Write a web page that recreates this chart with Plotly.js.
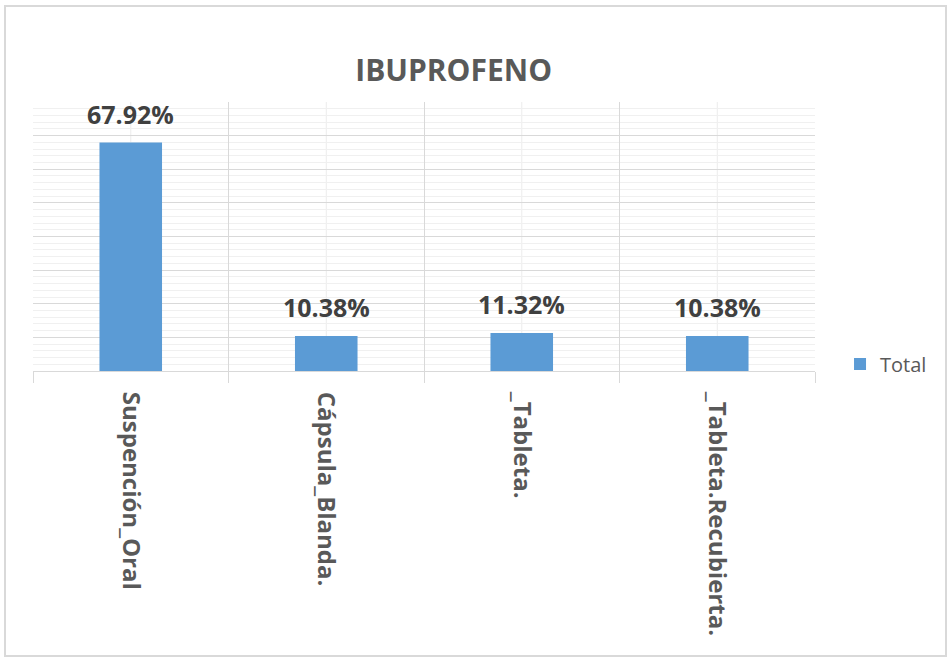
<!DOCTYPE html>
<html>
<head>
<meta charset="utf-8">
<script src="https://cdn.plot.ly/plotly-3.0.1.min.js"></script>
<style>
html,body{margin:0;padding:0;background:#fff;}
#frame{position:absolute;left:4px;top:5px;width:939px;height:648px;border:2px solid #d9d9d9;}
#chart{position:absolute;left:0;top:0;width:949px;height:657px;}
</style>
</head>
<body>
<div id="frame"></div>
<div id="chart"></div>
<script>
const categories = ["Suspención_Oral", "Cápsula_Blanda.", "_Tableta.", "_Tableta.Recubierta."];
const totalValues = [67.92, 10.38, 11.32, 10.38];
const seriesName = "Total";
const chartTitle = "IBUPROFENO";

const trace = {
  type: "bar",
  x: categories,
  y: totalValues,
  name: seriesName,
  marker: {color: "#5b9bd5"},
  hoverinfo: "x+y"
};

const centerLines = categories.map(c => ({
  type: "line", xref: "x", yref: "paper", x0: c, x1: c, y0: 0, y1: 1,
  line: {color: "#ececec", width: 1}, layer: "below"
}));

const valueLabels = categories.map((c, i) => ({
  x: c, y: totalValues[i], xref: "x", yref: "y",
  text: totalValues[i].toFixed(2) + "%",
  showarrow: false, xanchor: "center", yanchor: "bottom", yshift: 10,
  font: {family: "Open Sans", size: 25, color: "#404040", weight: "bold"}
}));

const layout = {
  width: 949, height: 657,
  paper_bgcolor: "rgba(0,0,0,0)",
  plot_bgcolor: "rgba(0,0,0,0)",
  margin: {l: 33, r: 134, t: 102, b: 286},
  title: {
    text: chartTitle,
    font: {family: "Open Sans", size: 30, color: "#595959", weight: "bold"},
    x: 0.478, xanchor: "center", xref: "container",
    y: 0.893, yanchor: "middle", yref: "container"
  },
  bargap: 0.68,
  showlegend: true,
  legend: {
    x: 1.032, xanchor: "left", y: 0.026, yanchor: "middle",
    font: {family: "Open Sans", size: 20, color: "#595959"},
    itemwidth: 30
  },
  xaxis: {
    type: "category",
    tickson: "boundaries",
    ticks: "outside", ticklen: 11, tickcolor: "#d9d9d9", tickwidth: 1,
    showline: true, linecolor: "#d9d9d9", linewidth: 1,
    showgrid: true, gridcolor: "#d9d9d9", gridwidth: 1,
    tickangle: 90,
    ticklabelstandoff: 15,
    tickfont: {family: "Open Sans", size: 24, color: "#595959", weight: "bold"},
    range: [-0.5, 3.5]
  },
  yaxis: {
    range: [0, 80], dtick: 10,
    showticklabels: false, ticks: "",
    showgrid: true, gridcolor: "#d9d9d9", gridwidth: 1,
    zeroline: false, showline: false,
    minor: {dtick: 2, showgrid: true, gridcolor: "#f0f0f0", gridwidth: 1}
  },
  shapes: centerLines,
  annotations: valueLabels
};

Plotly.newPlot("chart", [trace], layout, {displayModeBar: false, staticPlot: true});
</script>
</body>
</html>
